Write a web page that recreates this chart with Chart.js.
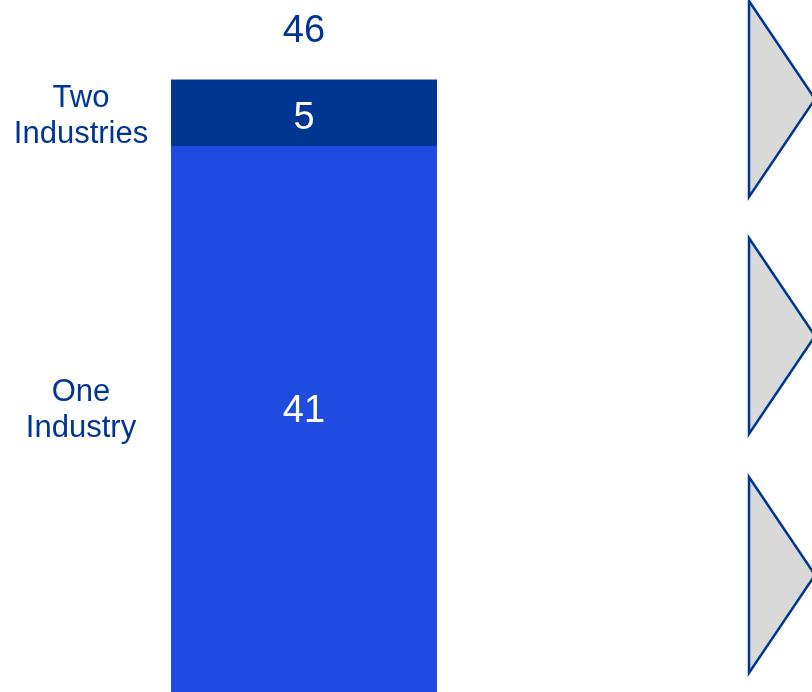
<!DOCTYPE html>
<html>
<head>
<meta charset="utf-8">
<script src="https://cdn.jsdelivr.net/npm/chart.js@4"></script>
<style>
  html, body { margin: 0; padding: 0; background: #fff; }
  canvas { display: block; }
</style>
</head>
<body>
<canvas id="industryChart" width="812" height="692"></canvas>
<script>
// data
const categories = ['Companies'];
const seriesNames = ['One Industry', 'Two Industries'];
const oneIndustry = [41];
const twoIndustries = [5];
const seriesColors = ['#1F4BE0', '#003591'];

const NAVY = '#003591';
const FONT = 'Arial, "Liberation Sans", sans-serif';

// value labels inside the bar, names on the left, total on top
const labelPlugin = {
    id: 'labels',
    afterDatasetsDraw(chart) {
        const ctx = chart.ctx;
        const offsets = [-8, 5];
        const nameShift = [-1, -2];
        ctx.save();
        ctx.textAlign = 'center';
        ctx.textBaseline = 'middle';
        let topY = null, barX = null;
        chart.data.datasets.forEach(function(ds, i) {
            const bar = chart.getDatasetMeta(i).data[0];
            const midY = (bar.y + bar.base) / 2 + offsets[i];
            barX = bar.x;
            topY = topY === null ? bar.y : Math.min(topY, bar.y);
            ctx.fillStyle = '#ffffff';
            ctx.font = '38px ' + FONT;
            ctx.fillText(ds.data[0], bar.x, midY);
            // series name, wrapped
            const words = ds.label.split(' ');
            ctx.fillStyle = NAVY;
            ctx.font = '31px ' + FONT;
            const lh = 36;
            words.forEach(function(w, j) {
                ctx.fillText(w, 81, midY + nameShift[i] + (j - (words.length - 1) / 2) * lh);
            });
        });
        const total = chart.data.datasets.reduce((s, ds) => s + ds.data[0], 0);
        ctx.fillStyle = NAVY;
        ctx.font = '38px ' + FONT;
        ctx.fillText(total, barX, topY - 48);
        ctx.restore();
    }
};

// grey arrow shapes on the right edge
const arrowPlugin = {
    id: 'arrows',
    afterDraw(chart) {
        const ctx = chart.ctx;
        const tops = [1, 238, 477];
        const h = 196;
        ctx.save();
        ctx.fillStyle = '#D9D9D9';
        ctx.strokeStyle = NAVY;
        ctx.lineWidth = 2.5;
        ctx.lineJoin = 'miter';
        tops.forEach(function(t) {
            ctx.beginPath();
            ctx.moveTo(749, t);
            ctx.lineTo(815, t + h / 2);
            ctx.lineTo(749, t + h);
            ctx.closePath();
            ctx.fill();
            ctx.stroke();
        });
        ctx.restore();
    }
};

new Chart(document.getElementById('industryChart'), {
    type: 'bar',
    data: {
        labels: categories,
        datasets: [
            { label: seriesNames[0], data: oneIndustry, backgroundColor: seriesColors[0] },
            { label: seriesNames[1], data: twoIndustries, backgroundColor: seriesColors[1] }
        ]
    },
    options: {
        responsive: false,
        animation: false,
        layout: { padding: { left: 171, right: 375, top: 0, bottom: 0 } },
        datasets: { bar: { barPercentage: 1, categoryPercentage: 1, borderWidth: 0 } },
        scales: {
            x: { stacked: true, display: false },
            y: { stacked: true, display: false, min: 0, max: 52 }
        },
        plugins: {
            legend: { display: false },
            tooltip: { enabled: false }
        }
    },
    plugins: [labelPlugin, arrowPlugin]
});
</script>
</body>
</html>
